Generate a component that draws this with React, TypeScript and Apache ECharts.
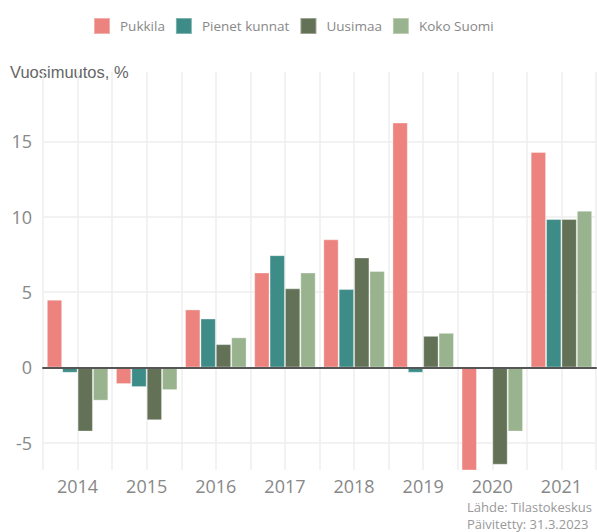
import React, { useEffect, useRef } from "react";
import * as echarts from "echarts";

const years = ["2014", "2015", "2016", "2017", "2018", "2019", "2020", "2021"];
const halfSlots = Array.from({ length: 16 }, (_, i) => String(i));
const seriesNames = ["Pukkila", "Pienet kunnat", "Uusimaa", "Koko Suomi"];
const pukkila = [4.5, -1.1, 3.85, 6.3, 8.5, 16.25, -7.0, 14.3];
const pienetKunnat = [-0.35, -1.3, 3.25, 7.45, 5.2, -0.35, -0.1, 9.85];
const uusimaa = [-4.25, -3.5, 1.55, 5.25, 7.3, 2.1, -6.45, 9.85];
const kokoSuomi = [-2.2, -1.5, 2.0, 6.3, 6.4, 2.3, -4.25, 10.4];
const colors = ["#EC837E", "#3D8C87", "#637257", "#98B38D"];
const yLabelValues = [-5, 0, 5, 10, 15];

export default function App() {
  const ref = useRef<HTMLDivElement>(null);
  useEffect(() => {
    document.body.style.margin = "0";
    if (!ref.current) return;
    const chart = echarts.init(ref.current, null, { renderer: "svg" });
    const data = [pukkila, pienetKunnat, uusimaa, kokoSuomi];
    chart.setOption({
      animation: false,
      color: colors,
      textStyle: { fontFamily: "Open Sans" },
      legend: {
        top: 12,
        left: 88,
        itemWidth: 16,
        itemHeight: 16,
        itemGap: 10,
        icon: "rect",
        data: seriesNames,
        textStyle: { color: "#888", fontSize: 13.5, fontFamily: "Open Sans", padding: [0, 0, 0, 5] },
      },
      grid: { left: 43, right: 1, top: 72, bottom: 62 },
      xAxis: [
        {
          type: "category",
          data: years,
          boundaryGap: true,
          axisLine: { show: true, onZero: true, lineStyle: { color: "#555", width: 2 } },
          axisTick: { show: false },
          splitLine: { show: false },
          axisLabel: { color: "#888", fontSize: 18, lineHeight: 18, margin: 7, fontFamily: "Open Sans" },
          z: 10,
        },
        {
          type: "category",
          data: halfSlots,
          boundaryGap: true,
          position: "bottom",
          axisLine: { show: false },
          axisTick: { show: false },
          axisLabel: { show: false },
          splitLine: { show: true, lineStyle: { color: "#eeeeee", width: 1.5 } },
        },
      ],
      yAxis: {
        type: "value",
        min: -6.8,
        max: 19.6,
        axisLine: { show: false },
        axisTick: { show: false },
        axisLabel: {
          color: "#888",
          fontSize: 18,
          margin: 11,
          fontFamily: "Open Sans",
          formatter: (v: number) => (yLabelValues.includes(Math.round(v * 100) / 100) ? String(v) : ""),
        },
        splitLine: {
          show: true,
          showMinLine: false,
          showMaxLine: false,
          lineStyle: { color: "#eeeeee", width: 1.5 },
        },
      },
      series: seriesNames.map((name, i) => ({
        name,
        type: "bar",
        data: data[i],
        barGap: "0%",
        barCategoryGap: "11%",
        clip: true,
        itemStyle: { color: colors[i], borderColor: "rgba(255,255,255,0.35)", borderWidth: 1 },
      })),
      graphic: [
        {
          type: "text",
          left: 10,
          top: 63,
          style: { text: "Vuosimuutos, %", fill: "#666", font: "16.5px 'Liberation Sans'" },
        },
        {
          type: "text",
          left: 467,
          top: 498,
          style: {
            text: "Lähde: Tilastokeskus\nPäivitetty: 31.3.2023",
            fill: "#999",
            font: "13px 'Open Sans'",
            lineHeight: 17,
          },
        },
      ],
    });
    return () => chart.dispose();
  }, []);
  return <div ref={ref} style={{ width: 597, height: 532 }} />;
}
